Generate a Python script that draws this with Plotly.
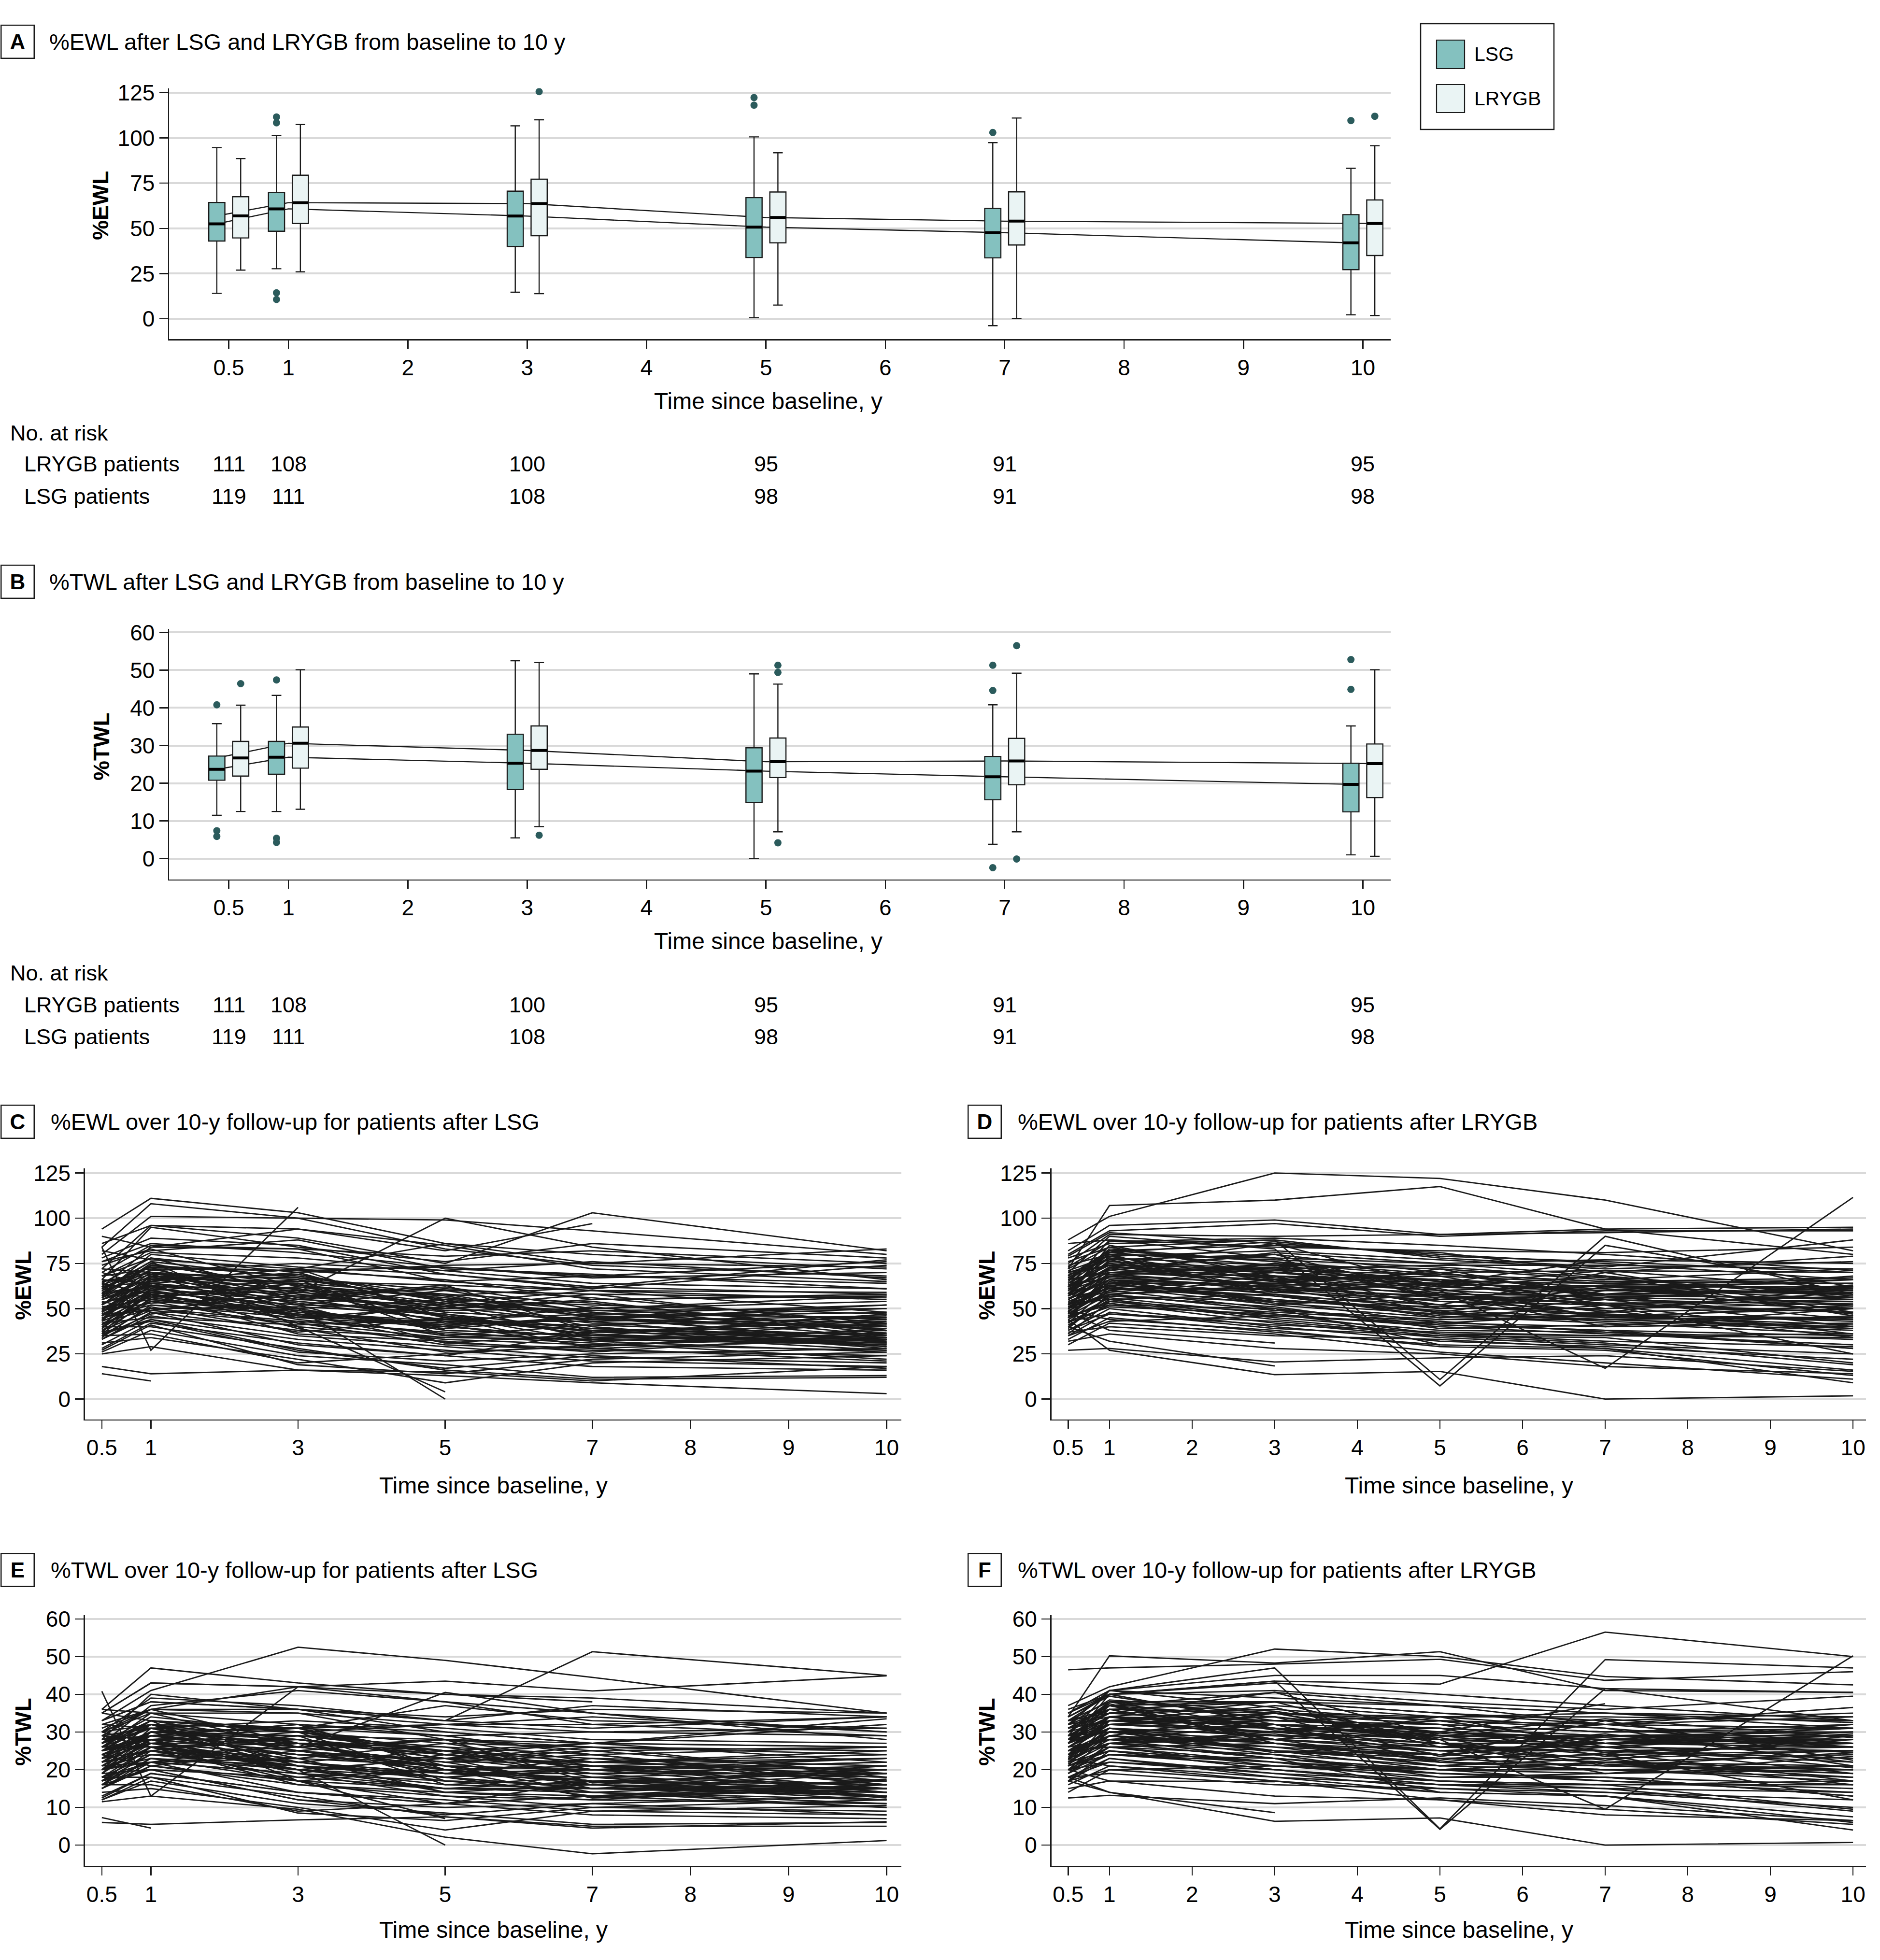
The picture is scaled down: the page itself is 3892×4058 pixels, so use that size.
import numpy as np
import plotly.graph_objects as go

W, H = 3892, 4058
FONT = "Liberation Sans, Arial, sans-serif"
INK = "#1a1a1a"
LSG_FILL = "#84c1bf"
LRYGB_FILL = "#eaf4f4"
DOT = "#2b5b5c"
GRID = "#d9d9d9"

# ---------------- data ----------------
times = [0.5, 1, 3, 5, 7, 10]
x_ticks = [0.5, 1, 2, 3, 4, 5, 6, 7, 8, 9, 10]
x_ticktext = ["0.5", "1", "2", "3", "4", "5", "6", "7", "8", "9", "10"]
ce_tick_times = [0.5, 1, 3, 5, 7, 8, 9, 10]
ce_ticktext = ["0.5", "1", "3", "5", "7", "8", "9", "10"]
ewl_ticks = [0, 25, 50, 75, 100, 125]
twl_ticks = [0, 10, 20, 30, 40, 50, 60]

# Panel A (%EWL) box statistics
a_lsg_lo = [14.1, 27.7, 14.7, 0.6, -3.8, 2.2]
a_lsg_q1 = [43.0, 48.4, 40.0, 33.9, 33.7, 27.2]
a_lsg_med = [52.5, 60.8, 56.8, 50.7, 47.6, 42.0]
a_lsg_q3 = [64.3, 69.9, 70.6, 67.0, 61.0, 57.6]
a_lsg_hi = [94.6, 101.3, 106.7, 100.6, 97.4, 83.2]
a_rygb_lo = [26.9, 26.0, 13.9, 7.6, 0.2, 1.8]
a_rygb_q1 = [44.7, 52.7, 45.9, 42.0, 40.8, 35.0]
a_rygb_med = [56.9, 64.2, 63.7, 56.0, 54.0, 52.7]
a_rygb_q3 = [67.5, 79.4, 77.2, 70.1, 70.2, 65.7]
a_rygb_hi = [88.6, 107.4, 110.0, 91.8, 111.0, 95.7]
a_lsg_out_t = [1, 1, 1, 1, 5, 5, 7, 10]
a_lsg_out_v = [111.6, 108.4, 14.4, 10.7, 122.3, 118.1, 103.0, 109.6]
a_rygb_out_t = [3, 10]
a_rygb_out_v = [125.6, 112.0]

# Panel B (%TWL) box statistics
b_lsg_lo = [11.5, 12.5, 5.5, 0.0, 3.8, 1.0]
b_lsg_q1 = [20.8, 22.4, 18.3, 14.9, 15.6, 12.4]
b_lsg_med = [23.7, 26.9, 25.3, 23.2, 21.7, 19.7]
b_lsg_q3 = [27.2, 31.1, 33.0, 29.4, 27.1, 25.3]
b_lsg_hi = [35.8, 43.3, 52.5, 49.0, 40.8, 35.2]
b_rygb_lo = [12.5, 13.1, 8.5, 7.1, 7.1, 0.6]
b_rygb_q1 = [21.9, 24.0, 23.7, 21.5, 19.6, 16.2]
b_rygb_med = [26.7, 30.6, 28.7, 25.7, 25.9, 25.2]
b_rygb_q3 = [31.1, 34.9, 35.2, 32.0, 31.9, 30.4]
b_rygb_hi = [40.7, 50.1, 52.0, 46.3, 49.2, 50.1]
b_lsg_out_t = [0.5, 0.5, 0.5, 1, 1, 1, 7, 7, 7, 10, 10]
b_lsg_out_v = [40.8, 7.4, 5.9, 47.4, 5.4, 4.3, 51.3, 44.6, -2.4, 52.8, 44.9]
b_rygb_out_t = [0.5, 3, 5, 5, 5, 7, 7]
b_rygb_out_v = [46.4, 6.2, 51.3, 49.4, 4.2, 56.5, -0.1]

# numbers at risk
risk_rygb = ["111", "108", "100", "95", "91", "95"]
risk_lsg = ["119", "111", "108", "98", "91", "98"]

# Panels C-F: individual patients, values at times 0.5, 1, 3, 5, 7, 10 y
N = None
c_lsg_ewl = [
    [94, 111, 103, 86, 80, 72], [84, 108, 100, 83, 74, 68], [80, 101, 100, 99, 93, 80],
    [72, 96, 89, 75, 103, 82], [86, 96, 94, 82, 97, N], [66, 95, 84, 76, 86, 78],
    [78, 89, 85, 69, 61, 74], [62, 84, 94, 85, 72, 65], [70, 85, 83, 79, 82, 75],
    [58, 80, 73, 69, 62, 58], [76, 82, 88, 72, 69, 61], [64, 78, 70, 74, 75, 83],
    [56, 74, 63, 56, 49, 44], [68, 72, 71, 73, 67, 70], [52, 70, 66, 55, 52, 47],
    [60, 69, 67, 60, 58, 56], [48, 68, 63, 53, 46, 42], [55, 67, 65, 63, 60, 59],
    [46, 66, 58, 48, 44, 40], [62, 65, 72, 65, 68, 64], [50, 64, 53, 44, 38, 36],
    [44, 63, 55, 52, 49, 50], [58, 62, 61, 45, 39, 33], [41, 61, 54, 47, 35, 31],
    [53, 60, 49, 41, 45, 48], [47, 59, 52, 50, 55, 57], [39, 58, 44, 36, 33, 30],
    [57, 57, 60, 58, 53, 38], [36, 56, 47, 42, 41, 35], [51, 55, 50, 38, 35, 33],
    [43, 54, 40, 33, 30, 27], [49, 53, 57, 61, 56, 42], [34, 52, 45, 40, 34, 32],
    [45, 50, 43, 37, 32, 26], [38, 49, 42, 30, 27, 24], [54, 48, 38, 34, 37, 43],
    [33, 46, 35, 29, 23, 20], [42, 45, 41, 44, 47, 52], [30, 44, 33, 27, 21, 18],
    [37, 43, 26, 21, 25, 28], [28, 42, 31, 24, 18, 16], [40, 40, 28, 16, 11, 12],
    [26, 38, 24, 19, 12, 13], [35, 36, 20, 25, 30, 34], [31, 34, 22, 9, 20, 24],
    [25, 29, 16, 13, 9, 3], [18, 14, 16, 15, 10, 18], [14, 10, N, N, N, N],
    [84, 27, 106, N, N, N], [70, 62, 50, 0, N, N], [60, 76, 40, 4, N, N],
    [82, 77, 72, 86, 75, 73], [90, 84, 83, 65, 60, 55], [65, 70, 59, 100, 84, 66],
    [74, 83, 62, 57, 62, 77], [46, 58, 36, 32, 26, 36], [42, 50, 51, 47, 39, 34],
    [59, 71, 75, 71, 64, 61], [52, 66, 69, 54, 47, 45], [35, 47, 56, 43, 38, 29],
    [63, 73, 48, 40, 34, 33], [48, 62, 61, 51, 42, 41], [56, 68, 64, 58, 45, 39],
    [41, 55, 46, 35, 31, 22], [68, 81, 78, 71, 76, 67], [39, 60, 39, 26, 29, 37],
    [55, 64, 57, 49, 50, 54], [44, 57, 48, 43, 43, 46], [61, 73, 71, 66, 55, 58],
    [50, 63, 42, 34, 33, 31], [27, 41, 19, 14, 22, 26], [33, 48, 30, 24, 37, 41],
    [76, 86, 81, 73, 68, 76], [53, 61, 54, 46, 37, 34], [45, 52, 47, 39, 45, 32],
    [36, 44, 27, 17, 24, 17], [64, 58, 47, 31, 28, 21], [47, 49, 59, 53, 60, 48],
    [48, 65, 72, 45, 36, 30], [62, 70, 52, 60, 48, 38], [40, 58, 62, 52, 33, 42],
    [57, 75, 60, 42, 51, 35], [44, 69, 50, 55, 40, 28], [66, 64, 70, 48, 44, 52],
    [38, 54, 49, 40, 46, 31], [52, 72, 56, 63, 37, 44], [59, 62, 45, 51, 58, 40],
    [46, 60, 66, 38, 35, 47], [35, 51, 37, 45, 28, 33], [68, 78, 58, 50, 54, 36],
    [43, 67, 61, 46, 32, 38], [55, 63, 42, 53, 43, 29], [50, 56, 64, 35, 41, 45],
    [61, 76, 67, 54, 48, 34], [37, 59, 52, 31, 36, 27], [72, 70, 55, 62, 50, 57],
    [49, 68, 46, 41, 29, 39], [58, 74, 68, 57, 45, 50],
]
e_lsg_twl = [
    [36, 47, 43, 40, 39, 35], [35, 43, 42, 38, 35, 30], [33, 41, 52.5, 49, 44.5, 35],
    [30, 39, 37, 33, 51.3, 45], [35, 43, 42, 40, 38, N], [28, 40, 36, 33, 37, 34],
    [33, 38, 36, 30, 27, 32], [27, 37, 41, 38, 32, 29], [29, 36, 36, 34, 36, 35],
    [26, 35, 32, 30, 27, 26], [31, 36, 42, 43.5, 40.9, 44.9], [27, 33, 30, 32, 32, 34],
    [25, 32, 28, 25, 22, 20], [30, 32, 31, 32, 30, 31], [23, 30, 29, 25, 23, 21],
    [27, 31, 30, 27, 26, 25], [22, 30, 28, 24, 21, 19], [24, 29, 29, 28, 27, 26],
    [20, 28, 25, 21, 20, 18], [28, 29, 32, 29, 30, 29], [23, 29, 24, 20, 17, 16],
    [19, 27, 24, 23, 22, 23], [25, 27, 27, 20, 17, 15], [19, 28, 25, 22, 16, 14],
    [24, 27, 22, 19, 20, 22], [21, 27, 24, 23, 25, 26], [17, 26, 20, 16, 15, 13],
    [26, 26, 27, 26, 24, 17], [16, 25, 21, 19, 18, 16], [23, 25, 22, 17, 16, 15],
    [20, 25, 18, 15, 14, 12], [22, 24, 26, 28, 25, 19], [15, 23, 20, 18, 15, 14],
    [20, 22, 19, 17, 14, 11], [17, 22, 19, 13, 12, 11], [24, 21, 17, 15, 17, 19],
    [15, 21, 16, 13, 10, 9], [19, 20, 18, 20, 21, 23], [13, 19, 14, 12, 9, 8],
    [17, 20, 12, 10, 11, 13], [12.5, 19, 14, 11, 8, 7], [18, 18, 13, 7.5, 5, 5],
    [12, 17, 11, 8.5, 5.5, 6], [16, 16, 9, 11, 13, 15], [14, 15, 10, 4, 9, 10.5],
    [11.5, 13, 9.5, 2.1, -2.3, 1.2], [6, 5.5, 6.7, 7.5, 4.5, 6.2], [7.3, 4.5, N, N, N, N],
    [40.8, 13, 42, N, N, N], [30, 27, 20, 0, N, N], [26, 33, 17, 7, N, N],
    [35, 33, 31, 37, 33, 31], [36, 35, 35, 28, 26, 24], [29, 31, 26, 40.5, 35, 28],
    [32, 36, 27, 25, 27, 33.5], [20, 26, 16, 14, 12, 16], [18, 22, 23, 21, 17, 15],
    [26, 31, 33, 31, 28, 27], [24, 30, 31, 24, 21, 20], [15, 21, 25, 19, 17, 13],
    [28, 32, 21, 18, 15, 15], [22, 28, 28, 23, 19, 19], [25, 30, 29, 26, 20, 18],
    [18, 24, 20, 15, 14, 10], [30, 36, 35, 32, 34, 30], [17, 26, 17, 11, 13, 16],
    [25, 29, 26, 22, 22, 24], [20, 26, 22, 19, 19, 21], [27, 32, 31, 29, 24, 26],
    [22, 28, 19, 15, 15, 14], [12, 18, 8.5, 6.5, 10, 12], [15, 22, 14, 11, 17, 19],
    [33, 38, 36, 33, 31, 34], [23, 27, 24, 21, 17, 15], [20, 23, 21, 18, 20, 14],
    [16, 20, 12, 8, 11, 8], [29, 26, 21, 14, 13, 10], [21, 22, 27, 24, 27, 22],
    [21, 29, 32, 20, 16, 13], [27, 31, 23, 27, 21, 17], [18, 26, 28, 23, 15, 19],
    [25, 33, 27, 19, 23, 16], [20, 31, 22, 25, 18, 12.5], [29, 28, 31, 21, 20, 23],
    [17, 24, 22, 18, 21, 14], [23, 32, 25, 28, 16.5, 20], [26, 28, 20, 23, 26, 18],
    [21, 27, 30, 17, 16, 21], [16, 23, 17, 20, 12.5, 15], [30, 35, 26, 22, 24, 16],
    [19, 30, 27, 21, 14, 17], [25, 28, 19, 24, 19, 13], [22, 25, 29, 16, 18, 20],
    [27, 34, 30, 24, 21, 15], [17, 26, 23, 14, 16, 12], [32, 31, 25, 28, 22, 25],
    [22, 30, 21, 18, 13, 17.5], [26, 33, 30, 25, 20, 22],
]
d_rygb_ewl = [
    [88, 101, 125, 122, 110, 82], [72, 107, 110, 117.5, 94, 80], [60, 68, 75, 60, 17, 111.5],
    [70, 90, 83, 7.3, 85, 62], [78, 86, 88, 10.8, 90, 58], [44, 27, 13.5, 15.3, 0, 1.8],
    [27, 28, 20.5, 22.8, 24, 15.3], [48, 38, 31, N, N, N], [40, 32, 18.3, N, N, N],
    [82, 96, 99, 91, 94, 95], [80, 93, 97, 90, 93, 93], [75, 91, 90, 91, 92, 94],
    [86, 88, 84, 82, 81, 84], [76, 84, 88, 78, 73, 88], [68, 82, 85, 81, 70, 79],
    [66, 80, 78, 75, 77, 75], [62, 78, 74, 72, 66, 72], [70, 77, 80, 70, 71, 70],
    [58, 76, 72, 65, 64, 66], [64, 75, 68, 66, 62, 62], [55, 73, 70, 62, 58, 60],
    [61, 72, 65, 60, 63, 64], [52, 70, 66, 57, 55, 52], [57, 69, 63, 64, 60, 58],
    [48, 68, 60, 52, 46, 45], [63, 67, 62, 56, 53, 54], [50, 66, 58, 50, 50, 53],
    [45, 65, 55, 48, 44, 40], [59, 64, 64, 58, 57, 56], [54, 63, 57, 46, 42, 36],
    [42, 62, 52, 45, 48, 51], [56, 61, 61, 54, 52, 48], [47, 60, 50, 41, 38, 35],
    [39, 58, 49, 44, 46, 50], [51, 57, 54, 51, 56, 62], [44, 56, 47, 40, 36, 30],
    [53, 55, 45, 38, 37, 28], [36, 54, 44, 36, 35, 34], [46, 53, 42, 34, 30, 25],
    [41, 52, 46, 42, 40, 42], [38, 50, 40, 32, 29, 22], [35, 48, 39, 35, 31, 19],
    [33, 45, 37, 30, 28, 16], [49, 44, 38, 29, 27, 13], [30, 42, 36, 26, 20, 11],
    [37, 40, 35, 33, 28, 9], [32, 36, 28, 25, 18, 14], [43, 47, 41, 37, 35, 36],
    [65, 83, 76, 69, 65, 64], [73, 87, 89, 85, 80, 71], [58, 81, 74, 65, 58, 55],
    [69, 74, 72, 74, 74, 72], [50, 59, 66, 68, 64, 60], [61, 70, 73, 63, 55, 50],
    [55, 66, 53, 47, 44, 39], [47, 63, 59, 55, 58, 61], [74, 80, 77, 73, 67, 56],
    [66, 71, 81, 75, 68, 46], [52, 62, 55, 49, 45, 44], [40, 57, 51, 39, 41, 46],
    [62, 76, 70, 66, 62, 58], [57, 66, 62, 59, 52, 25], [45, 54, 48, 43, 37, 33],
    [71, 79, 82, 77, 72, 76], [54, 61, 57, 52, 47, 43], [35, 43, 46, 41, 38, 28],
    [60, 73, 67, 60, 56, 54], [49, 58, 61, 57, 53, 48], [67, 81, 87, 79, 76, 70],
    [43, 51, 47, 36, 32, 29], [38, 47, 43, 35, 34, 20], [58, 69, 71, 69, 65, 67],
    [63, 74, 61, 48, 43, 38], [53, 64, 70, 62, 60, 59], [79, 92, 86, 80, 75, 66],
    [51, 58, 49, 44, 44, 45], [62, 70, 68, 64, 77, N], [46, 52, 50, 30, N, N],
    [60, 82, 66, 52, 70, 48], [52, 72, 80, 58, 48, 62], [67, 78, 60, 72, 55, 40],
    [45, 70, 72, 50, 62, 55], [58, 85, 68, 61, 45, 52], [50, 62, 75, 68, 52, 36],
    [64, 80, 57, 48, 60, 66], [55, 68, 64, 70, 57, 44], [70, 74, 86, 62, 68, 57],
    [48, 66, 52, 58, 40, 50], [62, 88, 78, 55, 63, 47], [53, 60, 68, 47, 55, 63],
    [72, 84, 70, 66, 50, 59], [46, 58, 63, 54, 49, 34], [57, 77, 59, 64, 61, 52],
    [66, 70, 74, 57, 46, 41], [42, 55, 58, 45, 52, 57], [60, 79, 65, 70, 58, 68],
    [51, 64, 54, 42, 47, 39], [68, 82, 76, 63, 71, 61],
]
f_rygb_twl = [
    [37, 42, 52, 50, 44.7, 42.5], [34, 50.2, 48.3, 51.3, 41, 40.5], [28, 32, 35, 28, 9.5, 50.2],
    [32, 41, 47, 4.3, 49.2, 47], [35, 40, 43.5, 4.2, 41.5, 33], [17, 14, 6.3, 7.2, 0, 0.7],
    [12.5, 13.2, 11, 12.5, 10.5, 6.5], [20, 17, 16.8, N, N, N], [18, 14, 8.6, N, N, N],
    [46.5, 47, 48, 49.3, 43.7, 46], [35, 41, 45, 45, 41.5, 40.5], [34, 40, 43.5, 42.7, 56.5, 50],
    [36, 40, 41, 38, 36, 39.5], [33, 38, 38, 35, 32, 36.5], [31, 37, 38, 37, 32, 34],
    [30, 36, 35, 34, 34, 33], [29, 35, 33, 32, 30, 32], [31, 35, 36, 33, 32, 31],
    [27, 34, 32, 29, 29, 30], [29, 34, 31, 30, 28, 28], [26, 33, 32, 28, 27, 28],
    [28, 33, 30, 28, 29, 29], [25, 32, 30, 26, 26, 25], [27, 31, 29, 29, 28, 27],
    [23, 31, 27, 24, 22, 21], [29, 30, 28, 26, 25, 26], [24, 30, 27, 23, 24, 25],
    [22, 30, 25, 22, 21, 19], [28, 30, 30, 27, 27, 27], [25, 29, 26, 21, 20, 17],
    [20, 29, 24, 21, 23, 25], [26, 28, 28, 25, 25, 23], [22, 28, 23, 19, 18, 16],
    [19, 27, 23, 20, 22, 24], [24, 27, 25, 24, 27, 30], [21, 26, 22, 19, 17, 14],
    [25, 26, 21, 18, 18, 13], [17, 25, 20, 17, 16, 16], [22, 25, 20, 16, 14, 12],
    [19, 24, 21, 20, 19, 20], [18, 23, 19, 15, 14, 10], [17, 23, 18, 16, 15, 9],
    [16, 21, 17, 14, 13, 7.5], [23, 21, 18, 14, 13, 6], [14, 20, 17, 12, 9.5, 5.5],
    [18, 19, 16, 15, 13, 4], [15, 17, 13, 12, 8, 6.5], [20, 22, 19, 17, 16, 17],
    [30, 38, 35, 32, 30, 30], [33, 40, 43, 40, 37, 33], [27, 37, 34, 30, 27, 26],
    [32, 34, 33, 34, 35, 34], [23, 27, 30, 31, 29, 28], [28, 32, 34, 29, 25, 23],
    [26, 31, 25, 22, 20, 18], [22, 29, 27, 25, 27, 29], [33, 36, 35, 33, 31, 26],
    [30, 33, 37, 34, 31, 21], [24, 29, 25, 23, 21, 20], [19, 26, 24, 18, 19, 21],
    [29, 35, 32, 31, 29, 27], [27, 31, 29, 27, 24, 12], [21, 25, 22, 20, 17, 15],
    [32, 36, 38, 35, 33, 35], [25, 28, 26, 24, 22, 20], [17, 20, 21, 19, 18, 13],
    [28, 34, 31, 28, 26, 25], [23, 27, 28, 26, 25, 22], [31, 37, 40.5, 37, 35, 32.5],
    [20, 24, 22, 17, 15, 14], [18, 22, 20, 16, 16, 9.5], [27, 32, 33, 32, 30, 31],
    [29, 34, 28, 22, 20, 18], [25, 30, 32, 29, 28, 27], [35, 41, 39, 37, 35, 31],
    [24, 27, 23, 20, 20, 21], [29, 32, 31, 30, 37.5, N], [21, 24, 23, 14, N, N],
    [28, 38, 31, 24, 33, 22.5], [24, 34, 38, 27, 22.5, 29], [31, 37, 28, 34, 26, 19],
    [21, 33, 34, 23.5, 29, 26], [27, 40, 32, 28.5, 21, 24.5], [23.5, 29, 35, 32, 24.5, 17],
    [30, 37.5, 27, 22.5, 28, 31], [26, 32, 30, 33, 27, 20.5], [33, 35, 40.5, 29, 32, 27],
    [22.5, 31, 24.5, 27, 19, 23.5], [29, 41, 36.5, 26, 29.5, 22], [25, 28, 32, 22, 26, 29.5],
    [34, 39.5, 33, 31, 23.5, 28], [21.5, 27, 29.5, 25, 23, 16], [27, 36, 28, 30, 28.5, 24.5],
    [31, 33, 35, 27, 21.5, 19], [20, 26, 27, 21, 24.5, 27], [28, 37, 30.5, 33, 27, 32],
    [24, 30, 25, 20, 22, 18], [32, 38.5, 35.5, 29.5, 33.5, 28.5],
]

# ---------------- layout helpers ----------------
def px_x(v):
    return v / W


def px_y(v):
    return 1 - v / H


OFF = 0.1      # box offset from the time point (years)
BOXW = 0.135   # box width (years)

fig = go.Figure()


def box_panel(xa, ya_base, ya_top, lo1, q11, md1, q31, hi1, lo2, q12, md2, q32, hi2,
              o1t, o1v, o2t, o2v):
    # median connecting lines (drawn in the lower subplot so the boxes cover them)
    lx1 = list(times)
    lx1[0] = times[0] - OFF
    lx1[-1] = times[-1] - OFF
    lx2 = list(times)
    lx2[0] = times[0] - OFF
    lx2[-1] = times[-1] + OFF
    for lx, md in ((lx1, md1), (lx2, md2)):
        fig.add_trace(go.Scatter(x=lx, y=md, mode="lines", line=dict(color=INK, width=2.4),
                                 xaxis=xa, yaxis=ya_base, showlegend=False, hoverinfo="skip"))
    for sgn, fill, lo, q1, md, q3, hi in ((-1, LSG_FILL, lo1, q11, md1, q31, hi1),
                                           (1, LRYGB_FILL, lo2, q12, md2, q32, hi2)):
        xs = [t + sgn * OFF for t in times]
        fig.add_trace(go.Box(x=xs, lowerfence=lo, q1=q1, median=md, q3=q3, upperfence=hi,
                             width=BOXW, whiskerwidth=0.6, fillcolor=fill,
                             line=dict(color=INK, width=2.4), boxpoints=False,
                             xaxis=xa, yaxis=ya_top, showlegend=False, hoverinfo="skip"))
        fig.add_trace(go.Scatter(x=xs, y=md, mode="markers",
                                 marker=dict(symbol="line-ew", size=23, color="black",
                                             line=dict(width=6, color="black")),
                                 xaxis=xa, yaxis=ya_top, showlegend=False, hoverinfo="skip"))
    for sgn, ot, ov in ((-1, o1t, o1v), (1, o2t, o2v)):
        fig.add_trace(go.Scatter(x=[t + sgn * OFF for t in ot], y=ov, mode="markers",
                                 marker=dict(color=DOT, size=15, line=dict(width=0)),
                                 xaxis=xa, yaxis=ya_top, showlegend=False, hoverinfo="skip"))


box_panel("x", "y", "y2", a_lsg_lo, a_lsg_q1, a_lsg_med, a_lsg_q3, a_lsg_hi,
          a_rygb_lo, a_rygb_q1, a_rygb_med, a_rygb_q3, a_rygb_hi,
          a_lsg_out_t, a_lsg_out_v, a_rygb_out_t, a_rygb_out_v)
box_panel("x2", "y3", "y4", b_lsg_lo, b_lsg_q1, b_lsg_med, b_lsg_q3, b_lsg_hi,
          b_rygb_lo, b_rygb_q1, b_rygb_med, b_rygb_q3, b_rygb_hi,
          b_lsg_out_t, b_lsg_out_v, b_rygb_out_t, b_rygb_out_v)

ce_tick_pos = [0, 0.5, 2, 3.5, 5, 6, 7, 8]  # axis positions of C/E time ticks


def spaghetti(rows, xa, ya, mapped):
    xs, ys = [], []
    tx = list(np.interp(times, ce_tick_times, ce_tick_pos)) if mapped else list(times)
    for r in rows:
        for t, v in zip(tx, r):
            if v is None:
                continue
            xs.append(t)
            ys.append(v)
        xs.append(None)
        ys.append(None)
    fig.add_trace(go.Scatter(x=xs, y=ys, mode="lines", connectgaps=False,
                             line=dict(color=INK, width=2.8),
                             xaxis=xa, yaxis=ya, showlegend=False, hoverinfo="skip"))


spaghetti(c_lsg_ewl, "x3", "y5", True)
spaghetti(d_rygb_ewl, "x4", "y6", False)
spaghetti(e_lsg_twl, "x5", "y7", True)
spaghetti(f_rygb_twl, "x6", "y8", False)

tickfont = dict(family=FONT, size=46, color="black")
xstyle = dict(showline=True, linecolor=INK, linewidth=2.5, ticks="outside", ticklen=17,
              tickwidth=2.5, tickcolor=INK, showgrid=False, zeroline=False, tickfont=tickfont,
              fixedrange=True, automargin=False)
ystyle = dict(showline=True, linecolor=INK, linewidth=2.5, ticks="outside", ticklen=18,
              tickwidth=2.5, tickcolor=INK, showgrid=True, gridcolor=GRID, gridwidth=4,
              zeroline=False, tickfont=tickfont, fixedrange=True, automargin=False)

AB_X = [px_x(350), px_x(2879)]
AB_RANGE = [0.0, 10.233]
CE_X = [px_x(175.7), px_x(1866)]
CE_RANGE = [-0.173, 8.15]
DF_X = [px_x(2176.6), px_x(3863)]
DF_RANGE = [0.297, 10.157]
EWL_RANGE = [-11.2, 127.5]
TWL_RANGE = [-5.5, 61.0]

A_Y = [px_y(702), px_y(182.6)]
B_Y = [px_y(1820.6), px_y(1301.6)]
C_Y = [px_y(2938.6), px_y(2419.2)]
E_Y = [px_y(3863), px_y(3344)]

hidden = dict(visible=False, showgrid=False, zeroline=False, fixedrange=True, automargin=False)

fig.update_layout(
    template="none",
    width=W, height=H, margin=dict(l=0, r=0, t=0, b=0, pad=0, autoexpand=False),
    paper_bgcolor="white", plot_bgcolor="white", showlegend=False, boxmode="overlay",
    font=dict(family=FONT, color="black"),
    xaxis=dict(domain=AB_X, range=AB_RANGE, anchor="y", tickvals=x_ticks, ticktext=x_ticktext, **xstyle),
    yaxis=dict(domain=A_Y, range=EWL_RANGE, anchor="x", tickvals=ewl_ticks, **ystyle),
    yaxis2=dict(overlaying="y", anchor="x", range=EWL_RANGE, **hidden),
    xaxis2=dict(domain=AB_X, range=AB_RANGE, anchor="y3", tickvals=x_ticks, ticktext=x_ticktext, **xstyle),
    yaxis3=dict(domain=B_Y, range=TWL_RANGE, anchor="x2", tickvals=twl_ticks, **ystyle),
    yaxis4=dict(overlaying="y3", anchor="x2", range=TWL_RANGE, **hidden),
    xaxis3=dict(domain=CE_X, range=CE_RANGE, anchor="y5", tickvals=ce_tick_pos, ticktext=ce_ticktext, **xstyle),
    yaxis5=dict(domain=C_Y, range=EWL_RANGE, anchor="x3", tickvals=ewl_ticks, **ystyle),
    xaxis4=dict(domain=DF_X, range=DF_RANGE, anchor="y6", tickvals=x_ticks, ticktext=x_ticktext, **xstyle),
    yaxis6=dict(domain=C_Y, range=EWL_RANGE, anchor="x4", tickvals=ewl_ticks, **ystyle),
    xaxis5=dict(domain=CE_X, range=CE_RANGE, anchor="y7", tickvals=ce_tick_pos, ticktext=ce_ticktext, **xstyle),
    yaxis7=dict(domain=E_Y, range=TWL_RANGE, anchor="x5", tickvals=twl_ticks, **ystyle),
    xaxis6=dict(domain=DF_X, range=DF_RANGE, anchor="y8", tickvals=x_ticks, ticktext=x_ticktext, **xstyle),
    yaxis8=dict(domain=E_Y, range=TWL_RANGE, anchor="x6", tickvals=twl_ticks, **ystyle),
)

ann = []


def text(x, y, s, size=47, anchor="left", angle=0, xref="paper", **kw):
    ann.append(dict(x=x, y=y, xref=xref, yref="paper", text=s, showarrow=False,
                    xanchor=anchor, yanchor="middle", textangle=angle,
                    font=dict(family=FONT, size=size, color="black"), **kw))


def letter(cx, cy, s):
    ann.append(dict(x=px_x(cx), y=px_y(cy), xref="paper", yref="paper", text="<b>%s</b>" % s,
                    showarrow=False, xanchor="center", yanchor="middle",
                    font=dict(family=FONT, size=44, color="black"),
                    bordercolor=INK, borderwidth=2.5, borderpad=0, width=66, height=66,
                    bgcolor="white"))


# panel titles
panels = [
    ("A", 36, 86, 100, "%EWL after LSG and LRYGB from baseline to 10 y"),
    ("B", 36, 1204, 100, "%TWL after LSG and LRYGB from baseline to 10 y"),
    ("C", 36.5, 2322, 103, "%EWL over 10-y follow-up for patients after LSG"),
    ("D", 2038, 2322, 2105, "%EWL over 10-y follow-up for patients after LRYGB"),
    ("E", 36.5, 3250, 103, "%TWL over 10-y follow-up for patients after LSG"),
    ("F", 2038, 3250, 2105, "%TWL over 10-y follow-up for patients after LRYGB"),
]
for lt, cx, cy, tx, title in panels:
    letter(cx, cy, lt)
    text(px_x(tx), px_y(cy), title, size=47)

# axis titles
XT = "Time since baseline, y"
for cx, cy in ((1590, 831), (1590, 1949), (1021, 3075), (3020, 3075), (1021, 3995), (3020, 3995)):
    text(px_x(cx), px_y(cy), XT, size=48, anchor="center")
for cx, cy, s in ((208, 426, "%EWL"), (210, 1546, "%TWL"), (48, 2662, "%EWL"),
                  (2043, 2662, "%EWL"), (48, 3586, "%TWL"), (2043, 3586, "%TWL")):
    text(px_x(cx), px_y(cy), "<b>%s</b>" % s, size=46, anchor="center", angle=-90)

# numbers at risk
for xa, y0 in (("x", 896), ("x2", 2015)):
    text(px_x(19), px_y(y0), "No. at risk", size=45)
    text(px_x(48), px_y(y0 + 65), "LRYGB patients", size=45)
    text(px_x(48), px_y(y0 + 131), "LSG patients", size=45)
    for t, a, b in zip(times, risk_rygb, risk_lsg):
        text(t, px_y(y0 + 65), a, size=45, anchor="center", xref=xa)
        text(t, px_y(y0 + 131), b, size=45, anchor="center", xref=xa)

# legend
text(px_x(3050), px_y(112), "LSG", size=41)
text(px_x(3050), px_y(204), "LRYGB", size=41)
shapes = [
    dict(type="rect", xref="paper", yref="paper", x0=px_x(2941), x1=px_x(3217),
         y0=px_y(268), y1=px_y(49), line=dict(color=INK, width=2.5), fillcolor="white"),
    dict(type="rect", xref="paper", yref="paper", x0=px_x(2974), x1=px_x(3032),
         y0=px_y(142), y1=px_y(83), line=dict(color=INK, width=2.2), fillcolor=LSG_FILL),
    dict(type="rect", xref="paper", yref="paper", x0=px_x(2974), x1=px_x(3032),
         y0=px_y(233), y1=px_y(175), line=dict(color=INK, width=2.2), fillcolor=LRYGB_FILL),
]
fig.update_layout(annotations=ann, shapes=shapes)

fig.write_html("out.html", config={"displayModeBar": False, "staticPlot": True},
               post_script="document.body.style.margin='0';")
